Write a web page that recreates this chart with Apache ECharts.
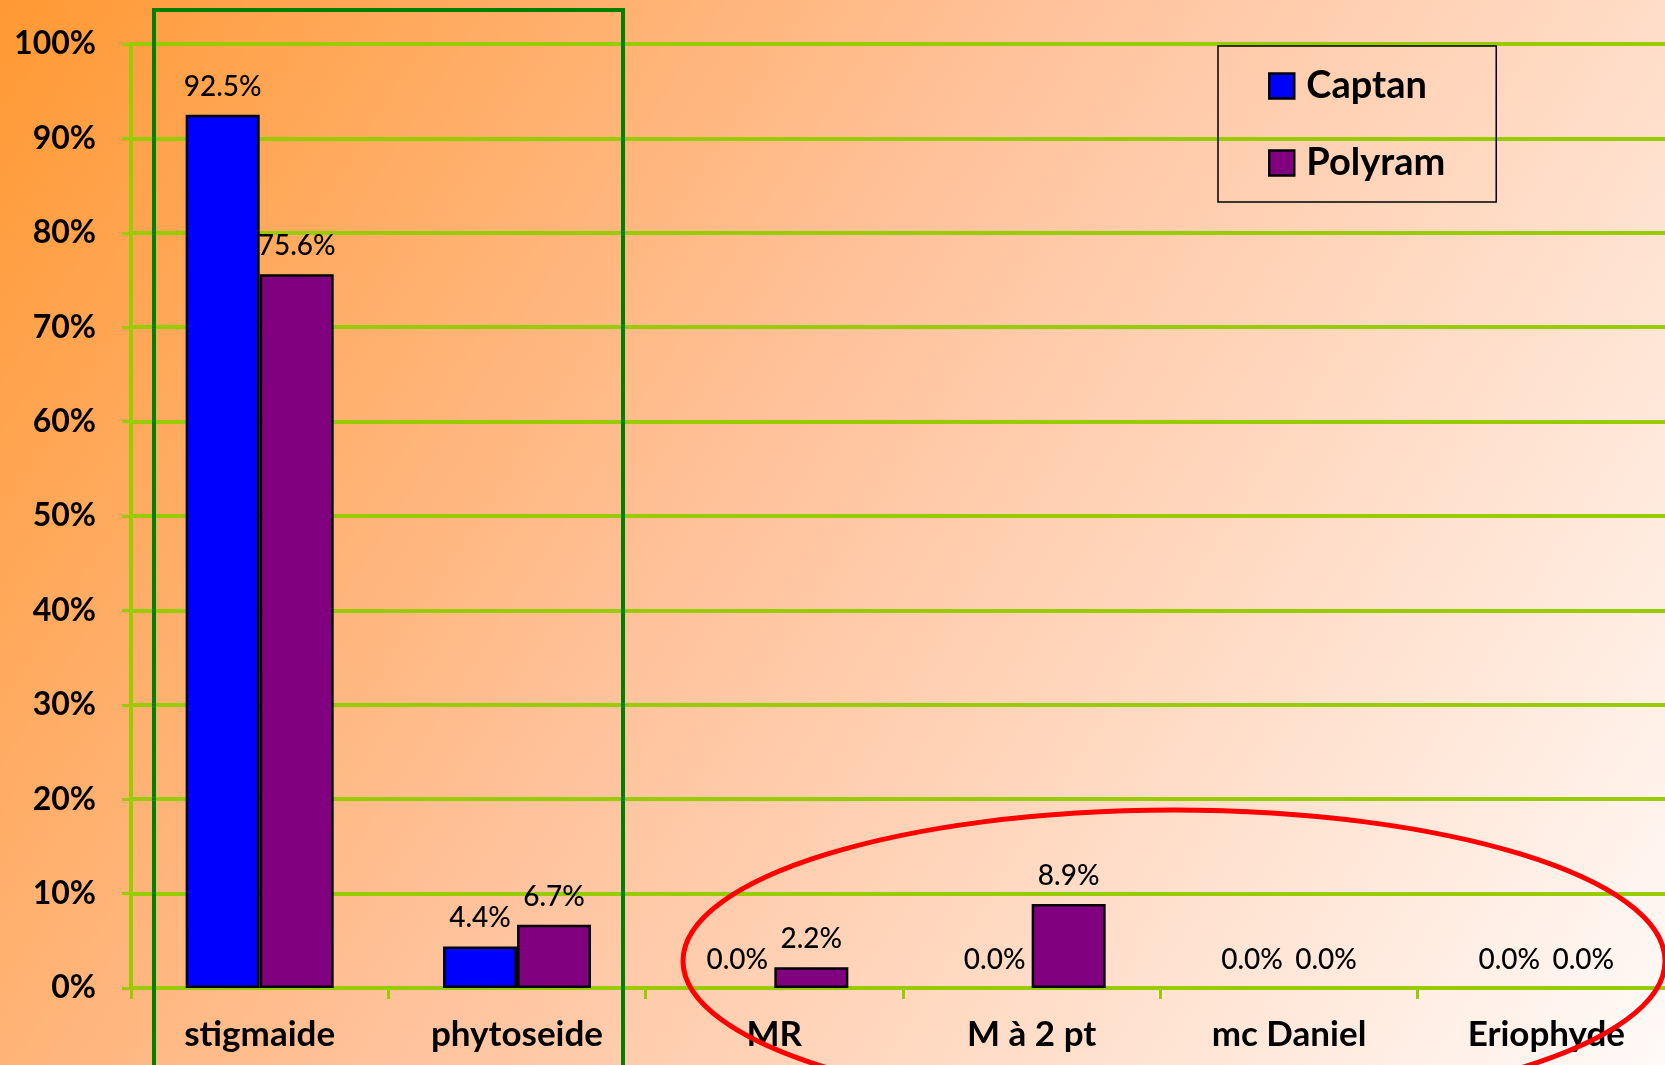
<!DOCTYPE html>
<html>
<head>
<meta charset="utf-8">
<script src="https://cdn.jsdelivr.net/npm/echarts@6/dist/echarts.min.js"></script>
<style>
html,body{margin:0;padding:0;}
#chart{width:1665px;height:1065px;}
</style>
</head>
<body>
<div id="chart"></div>
<script>
var categories = ['stigmaide', 'phytoseide', 'MR', 'M à 2 pt', 'mc Daniel', 'Eriophyde'];
var captanValues = [92.5, 4.4, 0.0, 0.0, 0.0, 0.0];
var polyramValues = [75.6, 6.7, 2.2, 8.9, 0.0, 0.0];
var seriesNames = ['Captan', 'Polyram'];
var yTicks = {min: 0, max: 100, interval: 10};

var FONT = 'Lato';
var GREEN = '#99CC00';

var chart = echarts.init(document.getElementById('chart'));

function dataLabel() {
  return {
    show: true,
    position: 'top',
    distance: 14,
    fontFamily: FONT,
    fontSize: 28,
    fontWeight: 500,
    color: '#000',
    formatter: function (p) { return p.value.toFixed(1) + '%'; }
  };
}

function toItems(values) {
  return values.map(function (v) {
    return v === 0 ? {value: v, itemStyle: {borderWidth: 0}} : {value: v};
  });
}

var option = {
  backgroundColor: {
    type: 'linear', x: 0, y: 0, x2: 1, y2: 1,
    colorStops: [
      {offset: 0, color: '#FF9933'},
      {offset: 0.45, color: '#FFC29B'},
      {offset: 1, color: '#FFFAF8'}
    ]
  },
  animation: false,
  grid: {left: 131, top: 44, width: 1544, height: 944, containLabel: false, outerBoundsMode: 'none'},
  legend: {
    orient: 'vertical',
    left: 1218,
    top: 46,
    padding: [21, 51, 20, 50],
    itemGap: 39,
    itemWidth: 25,
    itemHeight: 25,
    borderColor: '#000',
    borderWidth: 1.5,
    backgroundColor: 'transparent',
    icon: 'rect',
    itemStyle: {borderColor: '#000', borderWidth: 2.5},
    textStyle: {fontFamily: FONT, fontWeight: 'bold', fontSize: 38, color: '#000', padding: [0, 0, 0, 7]},
    data: seriesNames
  },
  xAxis: {
    type: 'category',
    data: categories,
    axisLine: {show: true, lineStyle: {color: GREEN, width: 4}},
    axisTick: {show: true, length: 11, lineStyle: {color: GREEN, width: 3}},
    axisLabel: {margin: 29, fontFamily: FONT, fontWeight: 'bold', fontSize: 35, color: '#000'},
    splitLine: {show: false}
  },
  yAxis: {
    type: 'value',
    min: yTicks.min,
    max: yTicks.max,
    interval: yTicks.interval,
    axisLine: {show: true, lineStyle: {color: GREEN, width: 4}},
    axisTick: {show: true, length: 9, lineStyle: {color: GREEN, width: 3}},
    axisLabel: {margin: 35, fontFamily: FONT, fontWeight: 'bold', fontSize: 32, color: '#000',
      formatter: '{value}%'},
    splitLine: {show: true, lineStyle: {color: GREEN, width: 4}}
  },
  series: [
    {
      name: seriesNames[0], type: 'bar', data: toItems(captanValues),
      barWidth: 74, barGap: '0%',
      itemStyle: {color: '#0000FF', borderColor: '#000', borderWidth: 2.5},
      label: dataLabel()
    },
    {
      name: seriesNames[1], type: 'bar', data: toItems(polyramValues),
      barWidth: 74, barGap: '0%',
      itemStyle: {color: '#800080', borderColor: '#000', borderWidth: 2.5},
      label: dataLabel()
    }
  ],
  graphic: [
    {
      type: 'rect', z: 100, silent: true,
      shape: {x: 154, y: 10, width: 469, height: 1100},
      style: {fill: 'none', stroke: '#008000', lineWidth: 4}
    },
    {
      type: 'ellipse', z: 100, silent: true,
      shape: {cx: 1174, cy: 961, rx: 491, ry: 151},
      style: {fill: 'none', stroke: '#FF0000', lineWidth: 5}
    }
  ]
};
chart.setOption(option);
</script>
</body>
</html>
